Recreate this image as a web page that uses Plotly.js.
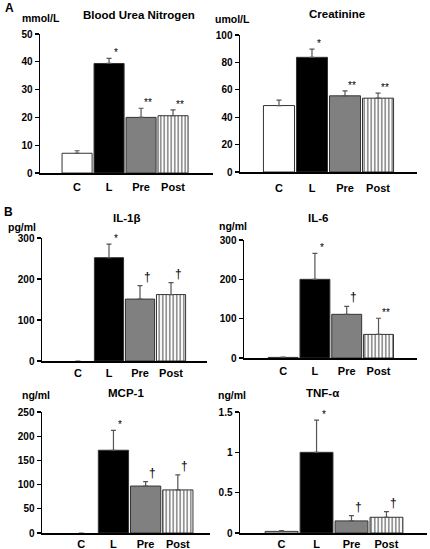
<!DOCTYPE html>
<html>
<head>
<meta charset="utf-8">
<script src="https://cdn.plot.ly/plotly-3.0.1.min.js"></script>
<style>
html,body{margin:0;padding:0;background:#fff;}
#chart{width:430px;height:549px;}
</style>
</head>
<body>
<div id="chart"></div>
<script>
// ---------- data ----------
const categories = ['C', 'L', 'Pre', 'Post'];

const bunMean = [7.1, 39.4, 20.0, 20.6];
const bunErr  = [0.9, 1.8, 3.3, 2.1];
const bunSig  = ['', '*', '**', '**'];

const creMean = [48.5, 83.7, 55.6, 53.9];
const creErr  = [4.0, 6.0, 3.6, 3.6];
const creSig  = ['', '*', '**', '**'];

const il1Mean = [0, 252, 151, 162];
const il1Err  = [0, 33, 33, 29];
const il1Sig  = ['', '*', '\u2020', '\u2020'];

const il6Mean = [1.5, 200, 111, 60];
const il6Err  = [0.5, 66, 20, 41];
const il6Sig  = ['', '*', '\u2020', '**'];

const mcpMean = [0, 171, 97, 89];
const mcpErr  = [0, 41, 9, 31];
const mcpSig  = ['', '*', '\u2020', '\u2020'];

const tnfMean = [0.02, 1.0, 0.15, 0.195];
const tnfErr  = [0.01, 0.4, 0.066, 0.07];
const tnfSig  = ['', '*', '\u2020', '\u2020'];

const panelTitles = ['Blood Urea Nitrogen', 'Creatinine', 'IL-1\u03b2', 'IL-6', 'MCP-1', 'TNF-\u03b1'];
const unitLabels  = ['mmol/L', 'umol/L', 'pg/ml', 'ng/ml', 'ng/ml', 'ng/ml'];
const panelLetters = ['A', 'B'];

// ---------- layout helpers ----------
const W = 430, H = 549;
const FONT = 'Liberation Sans, Arial, sans-serif';
const fx = p => p / W;
const fy = p => 1 - p / H;

const panels = [
  {mean: bunMean, err: bunErr, sig: bunSig, x0: 40,  x1: 213, y0: 34,  y1: 173, xr: [-1.16, 4.25], ymax: 50,  dtick: 10,  stand: 3},
  {mean: creMean, err: creErr, sig: creSig, x0: 240, x1: 417, y0: 35,  y1: 172, xr: [-1.18, 4.18], ymax: 100, dtick: 20,  stand: 5},
  {mean: il1Mean, err: il1Err, sig: il1Sig, x0: 42,  x1: 207, y0: 238, y1: 361, xr: [-1.16, 4.16], ymax: 300, dtick: 100, stand: 1},
  {mean: il6Mean, err: il6Err, sig: il6Sig, x0: 244, x1: 417, y0: 240, y1: 358, xr: [-1.23, 4.21], ymax: 300, dtick: 100, stand: 2},
  {mean: mcpMean, err: mcpErr, sig: mcpSig, x0: 42,  x1: 210, y0: 412, y1: 533, xr: [-1.22, 4.0],  ymax: 250, dtick: 50,  stand: 0},
  {mean: tnfMean, err: tnfErr, sig: tnfSig, x0: 240, x1: 427, y0: 412, y1: 533, xr: [-1.19, 4.16], ymax: 1.5, dtick: 0.5, stand: 0}
];

const titlePos = [[139, 15], [337, 14], [126, 218], [318, 218], [126, 393], [322, 393]];
const unitPos  = [[41, 18], [232, 19], [22, 227], [233, 226], [36, 395], [232, 395]];
const letterPos = [[9, 8], [8, 212]];

const barColors = ['#ffffff', '#000000', '#808080', '#ffffff'];
const patternShapes = ['', '', '', '|'];

const traces = [];
const layout = {
  width: W, height: H,
  margin: {l: 0, r: 0, t: 0, b: 0},
  paper_bgcolor: '#ffffff',
  plot_bgcolor: 'rgba(0,0,0,0)',
  showlegend: false,
  bargap: 0.06,
  font: {family: FONT, color: '#000'},
  annotations: []
};

panels.forEach((p, i) => {
  const n = i === 0 ? '' : String(i + 1);
  traces.push({
    type: 'bar',
    x: categories,
    y: p.mean,
    xaxis: 'x' + n,
    yaxis: 'y' + n,
    marker: {
      color: barColors,
      line: {color: '#333333', width: p.mean.map(v => v === 0 ? 0 : 1)},
      pattern: {shape: patternShapes, fillmode: 'overlay', size: 3.5, solidity: 0.42}
    },
    error_y: {
      type: 'data', symmetric: false,
      array: p.err.map(e => e === 0 ? null : e),
      arrayminus: p.err.map(() => 0),
      color: '#555555', thickness: 1.2, width: 2.5
    },
    hoverinfo: 'skip'
  });

  layout['xaxis' + n] = {
    domain: [fx(p.x0), fx(p.x1)],
    anchor: 'y' + n,
    type: 'category',
    range: p.xr,
    showline: true, linecolor: '#000', linewidth: 1.5,
    ticks: '', showgrid: false, zeroline: false,
    tickfont: {family: FONT, size: 11, color: '#000', weight: 'bold'},
    ticklabelstandoff: p.stand,
    fixedrange: true
  };
  layout['yaxis' + n] = {
    domain: [fy(p.y1), fy(p.y0)],
    anchor: 'x' + n,
    range: [0, p.ymax],
    dtick: p.dtick, tick0: 0,
    showline: true, linecolor: '#000', linewidth: 1.5,
    ticks: 'outside', ticklen: 4, tickwidth: 1.2, tickcolor: '#000',
    showgrid: false, zeroline: false,
    tickfont: {family: FONT, size: 10, color: '#000', weight: 'bold'},
    fixedrange: true
  };

  // significance marks
  p.sig.forEach((s, k) => {
    if (!s) return;
    layout.annotations.push({
      xref: 'x' + n, yref: 'y' + n,
      x: categories[k], y: p.mean[k] + p.err[k],
      text: s, showarrow: false,
      xanchor: 'center', yanchor: 'bottom',
      xshift: 7, yshift: s === '\u2020' ? 0 : -2,
      font: {family: FONT, size: s === '\u2020' ? 12 : 10, color: '#000'}
    });
  });

  layout.annotations.push({
    xref: 'paper', yref: 'paper',
    x: fx(titlePos[i][0]), y: fy(titlePos[i][1]),
    text: panelTitles[i], showarrow: false,
    xanchor: 'center', yanchor: 'middle',
    font: {family: FONT, size: 11.5, color: '#000', weight: 'bold'}
  });
  layout.annotations.push({
    xref: 'paper', yref: 'paper',
    x: fx(unitPos[i][0]), y: fy(unitPos[i][1]),
    text: unitLabels[i], showarrow: false,
    xanchor: 'center', yanchor: 'middle',
    font: {family: FONT, size: 10.5, color: '#000', weight: 'bold'}
  });
});

panelLetters.forEach((t, i) => {
  layout.annotations.push({
    xref: 'paper', yref: 'paper',
    x: fx(letterPos[i][0]), y: fy(letterPos[i][1]),
    text: t, showarrow: false,
    xanchor: 'center', yanchor: 'middle',
    font: {family: FONT, size: 12, color: '#000', weight: 'bold'}
  });
});

// darken the stripe colour of the hatched bars
function darkenStripes() {
  document.querySelectorAll('#chart pattern path').forEach(el => {
    el.setAttribute('stroke', '#000000');
    el.style.stroke = '#000000';
  });
}

Plotly.newPlot('chart', traces, layout, {displayModeBar: false, staticPlot: true}).then(darkenStripes);
</script>
</body>
</html>
